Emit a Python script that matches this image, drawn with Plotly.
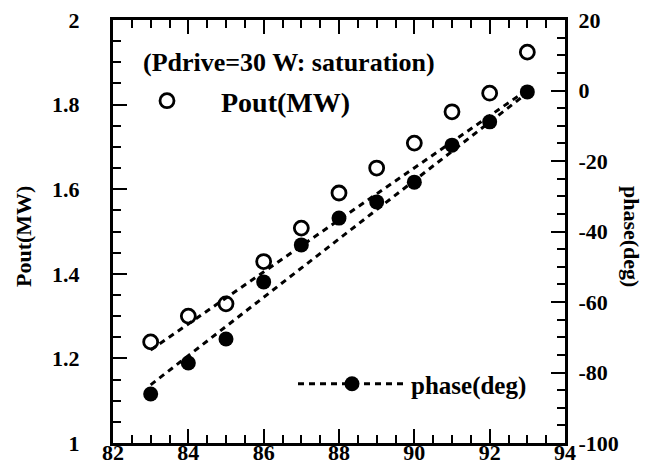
import plotly.graph_objects as go

# ---- data ----
freq = [83, 84, 85, 86, 87, 88, 89, 90, 91, 92, 93]
pout_mw = [1.239, 1.300, 1.329, 1.429, 1.508, 1.591, 1.650, 1.709, 1.783, 1.827, 1.924]
phase_deg = [-86.1, -77.3, -70.5, -54.3, -43.8, -36.2, -31.6, -26.0, -15.5, -8.9, -0.4]

fit_freq = [83, 93]
pout_fit = [1.220, 1.835]
phase_fit = [-83.5, -0.7]

x_ticks = [82, 84, 86, 88, 90, 92, 94]
y_ticks = [1, 1.2, 1.4, 1.6, 1.8, 2]
y2_ticks = [-100, -80, -60, -40, -20, 0, 20]

FONT = "Liberation Serif"
BLACK = "black"

W, H = 663, 476
# plot-area geometry (px)
L, R, T, B = 113, 565, 20, 443
PW, PH = R - L, B - T


def px(xp):
    return (xp - L) / PW


def py(yp):
    return (B - yp) / PH


fig = go.Figure()

fig.add_trace(go.Scatter(
    x=fit_freq, y=pout_fit, mode="lines",
    line=dict(color=BLACK, width=3, dash="6px,5px"),
    showlegend=False, hoverinfo="skip"))

fig.add_trace(go.Scatter(
    x=fit_freq, y=phase_fit, mode="lines", yaxis="y2",
    line=dict(color=BLACK, width=3, dash="6px,5px"),
    showlegend=False, hoverinfo="skip"))

fig.add_trace(go.Scatter(
    x=freq, y=pout_mw, mode="markers", name="Pout(MW)",
    marker=dict(symbol="circle-open", size=14, color=BLACK, line=dict(width=2.8)),
    legend="legend"))

fig.add_trace(go.Scatter(
    x=freq, y=phase_deg, mode="markers", yaxis="y2", name="phase(deg)",
    marker=dict(symbol="circle", size=15, color=BLACK),
    showlegend=False))

fig.add_trace(go.Scatter(
    x=[None], y=[None], mode="lines+markers", yaxis="y2", name="phase(deg)",
    line=dict(color=BLACK, width=3, dash="6px,5px"),
    marker=dict(symbol="circle", size=15, color=BLACK),
    legend="legend2"))

tickfont = dict(family=FONT, size=22, color=BLACK, weight="bold")
common = dict(ticks="inside", ticklen=14, tickwidth=2, tickcolor=BLACK,
              showline=True, linewidth=3, linecolor=BLACK,
              showgrid=False, zeroline=False, tickfont=tickfont, automargin=False)

fig.update_layout(
    width=W, height=H,
    margin=dict(l=L, r=W - R, t=T, b=H - B),
    paper_bgcolor="white", plot_bgcolor="white",
    font=dict(family=FONT, color=BLACK),
    xaxis=dict(
        range=[82, 94], tickvals=x_ticks, ticktext=[str(v) for v in x_ticks],
        minor=dict(dtick=0.5, ticks="inside", ticklen=8, tickwidth=2, tickcolor=BLACK),
        mirror="ticks", ticklabelstandoff=-12, **common),
    yaxis=dict(
        range=[1, 2], tickvals=y_ticks, ticktext=["1", "1.2", "1.4", "1.6", "1.8", "2"],
        minor=dict(dtick=0.05, ticks="inside", ticklen=8, tickwidth=2, tickcolor=BLACK),
        ticklabelstandoff=26, **common),
    yaxis2=dict(
        range=[-100, 20], tickvals=y2_ticks, ticktext=[str(v) for v in y2_ticks],
        overlaying="y", side="right",
        minor=dict(dtick=5, ticks="inside", ticklen=8, tickwidth=2, tickcolor=BLACK),
        ticklabelstandoff=6, **common),
    legend=dict(
        x=px(113), y=py(76), xanchor="left", yanchor="top",
        bgcolor="rgba(0,0,0,0)", itemwidth=98,
        font=dict(family=FONT, size=28, color=BLACK, weight="bold")),
    legend2=dict(
        x=px(293), y=py(361), xanchor="left", yanchor="top",
        bgcolor="rgba(0,0,0,0)", itemwidth=108,
        font=dict(family=FONT, size=25, color=BLACK, weight="bold")),
    annotations=[
        dict(text="(Pdrive=30 W: saturation)", xref="paper", yref="paper",
             x=px(141), y=py(62), xanchor="left", yanchor="middle",
             showarrow=False, font=dict(family=FONT, size=26, color=BLACK, weight="bold")),
        dict(text="Pout(MW)", xref="paper", yref="paper",
             x=px(24), y=py(237), xanchor="center", yanchor="middle",
             textangle=-90, showarrow=False,
             font=dict(family=FONT, size=22, color=BLACK, weight="bold")),
        dict(text="phase(deg)", xref="paper", yref="paper",
             x=px(632), y=py(236), xanchor="center", yanchor="middle",
             textangle=90, showarrow=False,
             font=dict(family=FONT, size=22, color=BLACK, weight="bold")),
    ],
)

# remove the default 8px page margin so the figure sits at the window origin,
# and hide the hover toolbar
fig.write_html("out.html", config={"displayModeBar": False},
               post_script="document.body.style.margin='0px';")
